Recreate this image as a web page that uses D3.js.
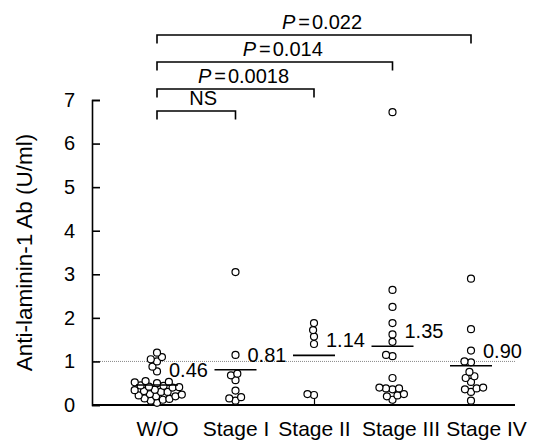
<!DOCTYPE html>
<html>
<head>
<meta charset="utf-8">
<script src="https://cdn.jsdelivr.net/npm/d3@7"></script>
<style>
body { margin: 0; background: #fff; }
text { font-family: "Liberation Sans", Arial, sans-serif; fill: #000; }
</style>
</head>
<body>
<svg width="535" height="442"></svg>
<script>
var groups = ["W/O", "Stage I", "Stage II", "Stage III", "Stage IV"];

var woValues = [1.2, 1.1, 1.05, 1.0, 0.88, 0.77,
    0.55, 0.53, 0.52, 0.5,
    0.45, 0.44, 0.42, 0.41, 0.4,
    0.35, 0.34, 0.32, 0.3, 0.3,
    0.25, 0.24, 0.22, 0.2, 0.2,
    0.15, 0.14, 0.12, 0.1, 0.05];
var stage1Values = [3.05, 1.15, 0.72, 0.68, 0.57, 0.33, 0.18, 0.15, 0.1];
var stage2Values = [1.88, 1.72, 1.57, 1.4, 0.25, 0.23];
var stage3Values = [6.72, 2.64, 2.25, 1.88, 1.62, 1.45, 1.15, 1.12, 0.62, 0.4,
    0.38, 0.38, 0.36, 0.25, 0.22, 0.2, 0.12];
var stage4Values = [2.9, 1.74, 1.25, 1.0, 0.98, 0.76, 0.66, 0.62, 0.53, 0.4,
    0.38, 0.36, 0.3, 0.1];

var medians = [0.46, 0.81, 1.14, 1.35, 0.90];
var medianLabels = ["0.46", "0.81", "1.14", "1.35", "0.90"];
var yTicks = [0, 1, 2, 3, 4, 5, 6, 7];
var cutoff = 1;

// comparisons against W/O, lowest bracket first
var compareTo = ["Stage I", "Stage II", "Stage III", "Stage IV"];
var compareP = [null, "0.0018", "0.014", "0.022"];

var allValues = [woValues, stage1Values, stage2Values, stage3Values, stage4Values];

var svg = d3.select("svg"),
    margin = {top: 100, right: 20, bottom: 37, left: 92},
    width = +svg.attr("width") - margin.left - margin.right,
    height = +svg.attr("height") - margin.top - margin.bottom,
    g = svg.append("g").attr("transform", "translate(" + margin.left + "," + margin.top + ")");

var x = d3.scalePoint()
    .domain(groups)
    .range([65, 379]);

var y = d3.scaleLinear()
    .domain([0, 7])
    .range([height, 0]);

// cut-off line
g.append("line")
    .attr("x1", 0)
    .attr("x2", width)
    .attr("y1", y(cutoff))
    .attr("y2", y(cutoff))
    .attr("stroke", "#888")
    .attr("stroke-width", 1)
    .attr("stroke-dasharray", "1,1");

// y axis, ticks pointing inward
var yAxis = g.append("g")
    .call(d3.axisLeft(y).tickValues(yTicks).tickFormat(d3.format("d"))
        .tickSize(-8).tickPadding(17));
yAxis.selectAll("path, line").attr("stroke", "#000").attr("stroke-width", 1.6);
yAxis.selectAll("text").attr("font-size", "20px").style("font-family", "'Liberation Sans', Arial, sans-serif");

// x axis
var labelShift = {"Stage III": 8, "Stage IV": 15};
var xAxis = g.append("g")
    .attr("transform", "translate(0," + height + ")")
    .call(d3.axisBottom(x).tickSize(-8).tickSizeOuter(0).tickPadding(16));
xAxis.select(".domain").remove();
xAxis.selectAll("line").attr("stroke", "#000").attr("stroke-width", 1.2);
xAxis.selectAll("text").attr("font-size", "21px").attr("dy", "0.71em")
    .attr("dx", function(d) { return labelShift[d] || 0; })
    .style("font-family", "'Liberation Sans', Arial, sans-serif");
xAxis.append("line")
    .attr("x1", 0)
    .attr("x2", width)
    .attr("stroke", "#000")
    .attr("stroke-width", 1.8);

g.append("text")
    .attr("transform", "rotate(-90)")
    .attr("x", -(y(3.5)))
    .attr("y", -60)
    .attr("text-anchor", "middle")
    .attr("font-size", "22.5px")
    .text("Anti-laminin-1 Ab (U/ml)");

// simple dodge so dots sit side by side
var r = 3.5, gap = 6.6;
function dodge(values, cx) {
    var placed = [];
    values.slice().sort(d3.ascending).forEach(function(v) {
        var py = y(v);
        var near = placed.filter(function(p) { return Math.abs(p.y - py) < gap; });
        var cands = [cx];
        near.forEach(function(p) {
            var dx = Math.sqrt(gap * gap - (p.y - py) * (p.y - py));
            cands.push(p.x - dx, p.x + dx);
        });
        cands.sort(function(a, b) { return Math.abs(a - cx) - Math.abs(b - cx); });
        var px = cands.find(function(c) {
            return near.every(function(p) {
                return (p.x - c) * (p.x - c) + (p.y - py) * (p.y - py) >= gap * gap - 0.01;
            });
        });
        placed.push({x: px, y: py});
    });
    return placed;
}

groups.forEach(function(grp, i) {
    var pts = dodge(allValues[i], x(grp));
    g.append("g").selectAll("circle")
        .data(pts)
        .enter().append("circle")
        .attr("cx", function(d) { return d.x; })
        .attr("cy", function(d) { return d.y; })
        .attr("r", r)
        .attr("fill", "#fff")
        .attr("stroke", "#000")
        .attr("stroke-width", 1.2);

    g.append("line")
        .attr("x1", x(grp) - 21)
        .attr("x2", x(grp) + 21)
        .attr("y1", y(medians[i]))
        .attr("y2", y(medians[i]))
        .attr("stroke", "#000")
        .attr("stroke-width", 1.6);

    g.append("text")
        .attr("x", x(grp) + 12)
        .attr("y", y(medians[i]) - 8)
        .attr("font-size", "20px")
        .text(medianLabels[i]);
});

// significance brackets
var bracketY = [111, 89, 62, 35];
compareTo.forEach(function(grp, i) {
    var x0 = margin.left + x("W/O"),
        x1 = margin.left + x(grp),
        by = bracketY[i];
    svg.append("path")
        .attr("d", "M" + x0 + "," + (by + 8.5) + "V" + by + "H" + x1 + "V" + (by + 8.5))
        .attr("fill", "none")
        .attr("stroke", "#000")
        .attr("stroke-width", 1.6);

    var t = svg.append("text")
        .attr("x", (x0 + x1) / 2 + (compareP[i] ? 8 : 7))
        .attr("y", by - 6)
        .attr("text-anchor", "middle")
        .attr("font-size", "20px");
    if (compareP[i]) {
        t.append("tspan").attr("font-style", "italic").text("P");
        t.append("tspan").attr("dx", 3).text("=");
        t.append("tspan").attr("dx", 2).text(compareP[i]);
    } else {
        t.text("NS");
    }
});
</script>
</body>
</html>
